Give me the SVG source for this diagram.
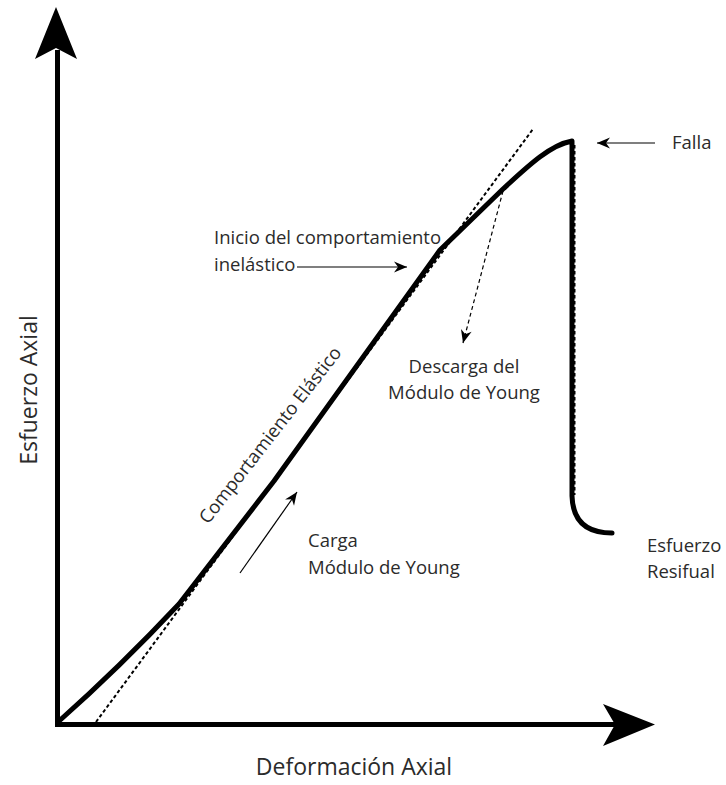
<svg xmlns="http://www.w3.org/2000/svg" width="726" height="785" viewBox="0 0 726 785">
  <style>
    .lbl { font-family: "Open Sans", "DejaVu Sans", sans-serif; font-size: 18.5px; fill: #2b2b2b; }
    .axis-lbl { font-family: "Open Sans", "DejaVu Sans", sans-serif; font-size: 23px; fill: #2b2b2b; }
    .axis { stroke: #000; stroke-width: 5; fill: none; }
    .curve { stroke: #000; stroke-width: 5; fill: none; stroke-linejoin: round; stroke-linecap: round; }
    .tangent { stroke: #000; stroke-width: 2; fill: none; stroke-dasharray: 3.5 2.5; }
    .thin { stroke: #000; stroke-width: 1.2; fill: none; }
    .thin-dash { stroke: #000; stroke-width: 1.2; fill: none; stroke-dasharray: 4 3; }
  </style>
  <defs>
    <marker id="head" markerUnits="userSpaceOnUse" markerWidth="16" markerHeight="12" viewBox="-14 -6 16 12" refX="0" refY="0" orient="auto">
      <path d="M0,0 L-13,-5.5 L-9,0 L-13,5.5 Z" fill="#000"/>
    </marker>
  </defs>
  <rect width="726" height="785" fill="#fff"/>

  <!-- axes -->
  <g id="axes">
    <line class="axis" x1="57.5" y1="50" x2="57.5" y2="727"/>
    <line class="axis" x1="55" y1="724.5" x2="620" y2="724.5"/>
    <polygon points="56,7 77,59 56,48 35,59" fill="#000"/>
    <polygon points="655,724.5 603,704 615,724.5 603,746" fill="#000"/>
  </g>

  <!-- stress-strain curve -->
  <g id="curve">
    <path class="tangent" d="M96,722 L533,129"/>
    <path class="curve" d="M58,722 Q120,667 179,604 L274,481 L440,250 L503,189 C528,166 550,145 572,141 L572,496 Q573,533 612,533"/>
    <path class="tangent" d="M574.5,145 L574.5,495"/>
  </g>

  <!-- annotation connectors -->
  <g id="connectors">
    <line class="thin" x1="655" y1="143" x2="597" y2="143" marker-end="url(#head)"/>
    <line class="thin" x1="297" y1="267" x2="407" y2="267" marker-end="url(#head)"/>
    <line class="thin-dash" x1="503" y1="191" x2="463" y2="343" marker-end="url(#head)"/>
    <line class="thin" x1="240" y1="573" x2="297" y2="492" marker-end="url(#head)"/>
  </g>

  <!-- labels -->
  <g id="label-falla"><text class="lbl" x="672" y="149">Falla</text></g>
  <g id="label-inicio">
    <text class="lbl" x="214" y="244">Inicio del comportamiento</text>
    <text class="lbl" x="214" y="271">inelástico</text>
  </g>
  <g id="label-descarga">
    <text class="lbl" x="464" y="373" text-anchor="middle">Descarga del</text>
    <text class="lbl" x="464" y="399" text-anchor="middle">Módulo de Young</text>
  </g>
  <g id="label-residual">
    <text class="lbl" x="647" y="552">Esfuerzo</text>
    <text class="lbl" x="647" y="578">Resifual</text>
  </g>
  <g id="label-carga">
    <text class="lbl" x="308" y="547">Carga</text>
    <text class="lbl" x="308" y="574">Módulo de Young</text>
  </g>
  <g id="label-elastico">
    <text class="lbl" transform="translate(208,525) rotate(-52)">Comportamiento Elástico</text>
  </g>
  <g id="label-axes">
    <text class="axis-lbl" text-anchor="middle" transform="translate(37,390) rotate(-90)">Esfuerzo Axial</text>
    <text class="axis-lbl" x="354" y="775" text-anchor="middle">Deformación Axial</text>
  </g>
</svg>
